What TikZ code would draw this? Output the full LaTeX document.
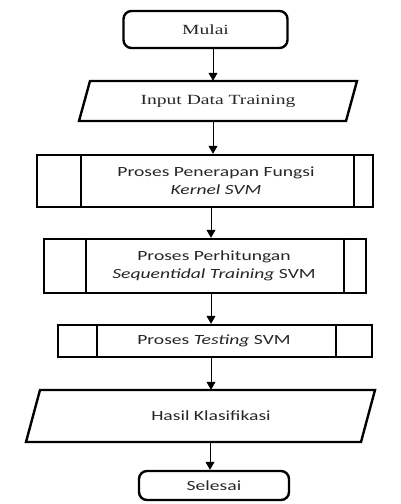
\documentclass[tikz,border=0pt]{standalone}
\usepackage{graphicx}
\usepackage{fontspec}
\usetikzlibrary{arrows.meta}
\newfontfamily\sansf{Carlito}
\newfontfamily\seriff{Liberation Serif}
\newcommand\sx[1]{\scalebox{1.4}[1]{#1}}
\begin{document}
\begin{tikzpicture}[x=1pt,y=-1pt,
  box/.style={draw, line width=2.4pt, line join=miter},
  sans/.style={font=\sansf\fontsize{14}{18}\selectfont, text=black!85},
  serif/.style={font=\seriff\fontsize{14}{18}\selectfont, text=black!85},
  txt/.style={inner sep=0pt, align=center},
  arr/.style={-{Triangle[width=9pt,length=8pt]}, line width=0.8pt}]
\useasboundingbox (0,0) rectangle (400,504);

% Mulai
\node[box, rounded corners=8pt, minimum width=164pt, minimum height=37pt, inner sep=0pt, serif] (mulai) at (205.5,29.5) {\sx{Mulai}};

% Input Data Training
\draw[box] (90,81) -- (357,81) -- (346,121) -- (79,121) -- cycle;
\node[txt, serif, minimum height=40pt] (input) at (218,101) {\sx{Input Data Training}};

% Proses Penerapan Fungsi Kernel SVM
\node[box, minimum width=336pt, minimum height=52pt, inner sep=0pt] (kernel) at (205,181) {};
\draw[box] ([xshift=45pt]kernel.north west) -- ([xshift=45pt]kernel.south west);
\draw[box] ([xshift=-20pt]kernel.north east) -- ([xshift=-20pt]kernel.south east);
\node[txt, sans] (kernelt) at (216,181) {\sx{Proses Penerapan Fungsi}\\\sx{\textit{Kernel SVM}}};

% Proses Perhitungan Sequentidal Training SVM
\node[box, minimum width=322pt, minimum height=54pt, inner sep=0pt] (seq) at (205,266) {};
\draw[box] ([xshift=43pt]seq.north west) -- ([xshift=43pt]seq.south west);
\draw[box] ([xshift=-23pt]seq.north east) -- ([xshift=-23pt]seq.south east);
\node[txt, sans] (seqt) at (214,266) {\sx{Proses Perhitungan}\\\sx{\textit{Sequentidal Training} SVM}};

% Proses Testing SVM
\node[box, minimum width=314pt, minimum height=32pt, inner sep=0pt] (test) at (215,341) {};
\draw[box] ([xshift=40pt]test.north west) -- ([xshift=40pt]test.south west);
\draw[box] ([xshift=-37pt]test.north east) -- ([xshift=-37pt]test.south east);
\node[txt, sans] (testt) at (214,341) {\sx{Proses \textit{Testing} SVM}};

% Hasil Klasifikasi
\draw[box] (40,390) -- (375,390) -- (361,442) -- (26,442) -- cycle;
\node[txt, sans, minimum height=52pt] (hasil) at (211,416) {\sx{Hasil Klasifikasi}};

% Selesai
\node[box, rounded corners=8pt, minimum width=150pt, minimum height=29pt, inner sep=0pt, sans] (selesai) at (214,485.5) {\sx{Selesai}};

% connectors
\draw[arr] ([xshift=7.5pt]mulai.south) -- ([xshift=-5pt]input.north);
\draw[arr] ([xshift=-5pt]input.south) -- ([xshift=8pt]kernel.north);
\draw[arr] ([xshift=6pt]kernel.south) -- ([xshift=6pt]seq.north);
\draw[arr] ([xshift=6pt]seq.south) -- ([xshift=-4pt]test.north);
\draw[arr] ([xshift=-4pt]test.south) -- (hasil.north);
\draw[arr] ([xshift=-1pt]hasil.south) -- ([xshift=-4pt]selesai.north);
\end{tikzpicture}
\end{document}
